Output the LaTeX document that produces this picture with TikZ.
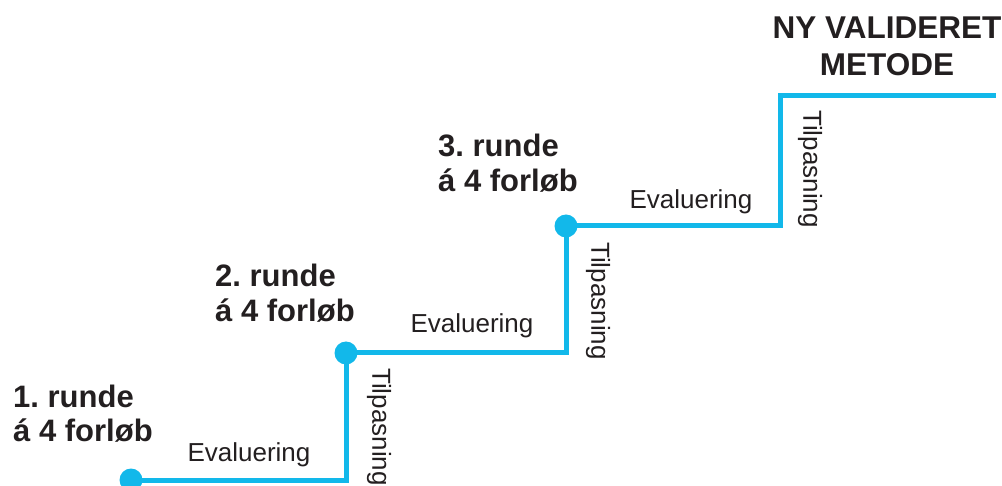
\documentclass[tikz,border=0pt]{standalone}
\usepackage{fontspec}
\setmainfont{Liberation Sans}
\frenchspacing
\definecolor{stepcyan}{RGB}{18,184,234}
\definecolor{ink}{RGB}{35,31,32}
\begin{document}
\begin{tikzpicture}[x=1pt,y=-1pt,
  stepline/.style={draw=stepcyan, line width=5pt, line join=miter},
  stepdot/.style={circle, fill=stepcyan, minimum size=23pt, inner sep=0pt},
  roundlabel/.style={font=\fontsize{31}{35}\selectfont\bfseries, text=ink, align=left, inner sep=0pt, anchor=base west},
  headlabel/.style={font=\fontsize{31.5}{37}\selectfont\bfseries, text=ink, align=center, inner sep=0pt, anchor=base},
  evallabel/.style={font=\fontsize{26}{30}\selectfont, text=ink, inner sep=0pt, anchor=base},
  adaptlabel/.style={font=\fontsize{26}{30}\selectfont, text=ink, inner sep=0pt, rotate=-90, anchor=west}]
\useasboundingbox (0,0) rectangle (1002,486);
% step line
\coordinate (s1) at (131,480);
\coordinate (s2) at (346,353);
\coordinate (s3) at (566,226);
\coordinate (s4) at (780,96);
\coordinate (send) at (996,96);
\draw[stepline] (s1) -| (s2) -| (s3) -| (s4) -- (send);
\node[stepdot] (d1) at (s1) {};
\node[stepdot] (d2) at (s2) {};
\node[stepdot] (d3) at (s3) {};
% labels (base anchor = baseline of the last line)
\node[roundlabel] (r1) at (13,442) {1. runde\\á 4 forløb};
\node[roundlabel] (r2) at (215,322) {2. runde\\á 4 forløb};
\node[roundlabel] (r3) at (438,192) {3. runde\\á 4 forløb};
\node[headlabel] (head) at (887,76) {NY VALIDERET\\METODE};
\node[evallabel] (e1) at (249,461) {Evaluering};
\node[evallabel] (e2) at (472,333) {Evaluering};
\node[evallabel] (e3) at (691,209) {Evaluering};
\node[adaptlabel] (t1) at (379,368) {Tilpasning};
\node[adaptlabel] (t2) at (598,242) {Tilpasning};
\node[adaptlabel] (t3) at (810,110) {Tilpasning};
\end{tikzpicture}
\end{document}
